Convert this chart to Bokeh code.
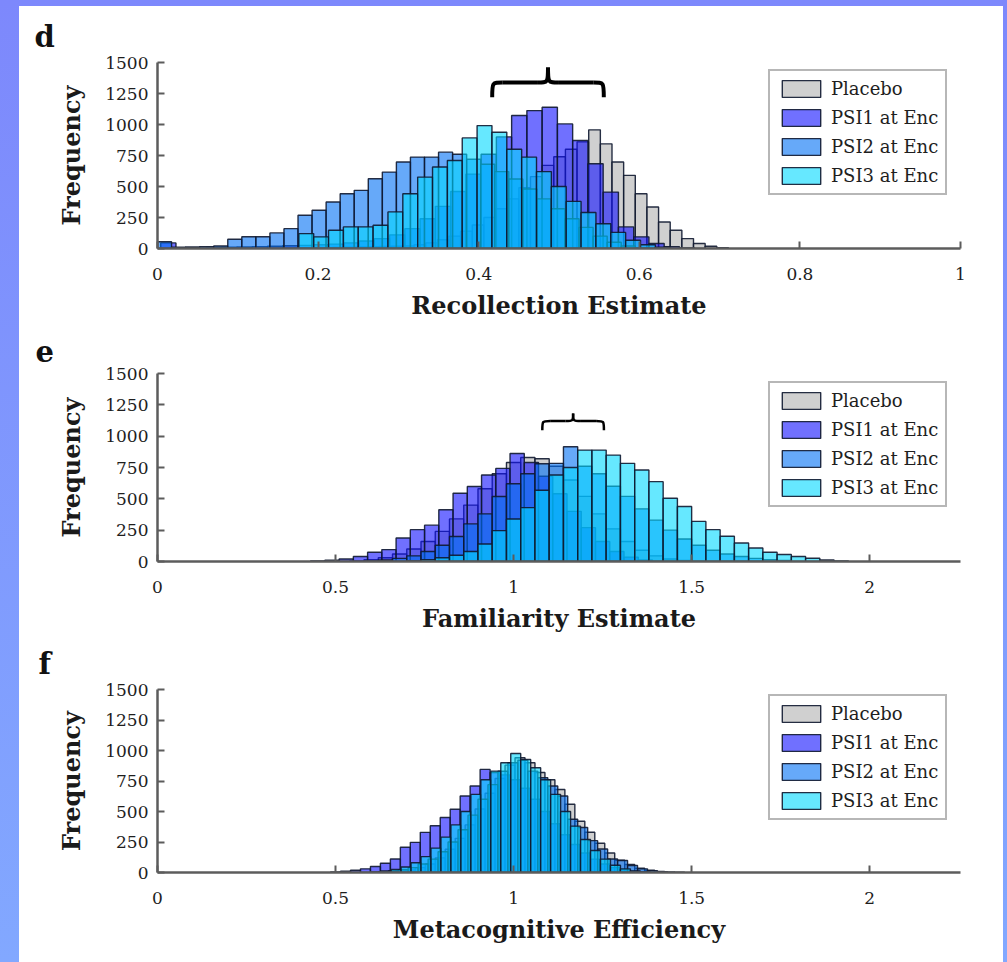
from bokeh.plotting import figure
from bokeh.layouts import column
from bokeh.models import Range1d, FixedTicker, Label, Legend, LegendItem, Title
from bokeh.embed import file_html
from bokeh.resources import INLINE

# ---------------- data ----------------
SERIES = ["Placebo", "PSI1 at Enc", "PSI2 at Enc", "PSI3 at Enc"]

Y_TICKS = [0, 250, 500, 750, 1000, 1250, 1500]
Y_TICK_LABELS = ["0", "250", "500", "750", "1000", "1250", "1500"]

# panel d : Recollection
REC_X_TICKS = [0, 0.2, 0.4, 0.6, 0.8, 1.0]
REC_X_TICK_LABELS = ["0", "0.2", "0.4", "0.6", "0.8", "1"]
REC_BIN_STARTS = [0.16, 0.004, 0.0, 0.176]
REC_BIN_WIDTHS = [0.0145, 0.019, 0.0175, 0.0185]
rec_placebo = [3, 4, 5, 6, 8, 10, 12, 14, 16, 18, 20, 30, 45, 70, 100, 140, 190, 250, 320,
               400, 490, 580, 670, 740, 800, 860, 957, 844, 697, 590, 442, 335, 214, 147, 80,
               40, 18, 6]
rec_psi1 = [45, 5, 5, 8, 10, 12, 15, 18, 22, 25, 30, 35, 45, 60, 80, 110, 160, 240, 340, 460,
            600, 760, 900, 1072, 1112, 1139, 1005, 871, 683, 455, 174, 94, 40, 15, 5]
rec_psi2 = [55, 10, 12, 15, 20, 75, 95, 95, 126, 160, 268, 308, 375, 442, 469, 563, 616, 697,
            737, 737, 777, 760, 720, 680, 620, 560, 480, 400, 320, 240, 170, 100, 50, 20, 5]
rec_psi3 = [120, 94, 147, 174, 174, 188, 295, 442, 576, 657, 710, 892, 991, 938, 800, 737, 620,
            500, 380, 290, 200, 130, 67, 30, 10]

# panel e : Familiarity
FAM_X_TICKS = [0, 0.5, 1.0, 1.5, 2.0]
FAM_X_TICK_LABELS = ["0", "0.5", "1", "1.5", "2"]
FAM_BIN_STARTS = [0.54, 0.43, 0.58, 0.70]
FAM_BIN_WIDTHS = [0.04, 0.04, 0.04, 0.04]
fam_placebo = [5, 15, 30, 60, 100, 160, 240, 340, 450, 580, 700, 790, 830, 820, 760, 650, 520,
               380, 260, 160, 90, 45, 20, 8]
fam_psi1 = [5, 10, 20, 40, 74, 95, 188, 254, 290, 413, 545, 598, 690, 743, 862, 790, 680, 540,
            400, 270, 160, 80, 35, 12]
fam_psi2 = [5, 12, 25, 45, 80, 130, 200, 300, 380, 519, 620, 700, 780, 783, 915, 760, 700, 600,
            520, 420, 330, 250, 180, 130, 90, 60, 40, 25, 15, 8]
fam_psi3 = [5, 15, 30, 50, 80, 140, 246, 339, 430, 568, 690, 750, 889, 889, 849, 783, 730, 637,
            505, 439, 320, 254, 201, 148, 108, 74, 56, 40, 26, 12, 5]

# panel f : Metamemory
META_X_TICKS = [0, 0.5, 1.0, 1.5, 2.0]
META_X_TICK_LABELS = ["0", "0.5", "1", "1.5", "2"]
META_BIN_STARTS = [0.64, 0.486, 0.62, 0.60]
META_BIN_WIDTHS = [0.028, 0.028, 0.028, 0.028]
meta_placebo = [5, 10, 20, 40, 70, 120, 190, 280, 390, 520, 650, 770, 880, 940, 900, 820, 760,
                680, 560, 420, 330, 240, 160, 100, 65, 35, 18, 8, 4, 2]
meta_psi1 = [5, 10, 18, 30, 49, 76, 111, 207, 247, 329, 383, 451, 519, 627, 709, 845, 820, 800,
             760, 690, 600, 500, 400, 310, 230, 160, 110, 70, 40, 22, 10, 4]
meta_psi2 = [5, 12, 22, 40, 70, 110, 170, 250, 350, 470, 600, 720, 830, 900, 920, 831, 777, 709,
             627, 437, 369, 261, 193, 111, 98, 57, 30, 15, 6]
meta_psi3 = [5, 12, 25, 45, 80, 130, 200, 290, 390, 500, 640, 760, 831, 899, 975, 926, 858, 760,
             640, 500, 380, 270, 180, 110, 60, 30, 12, 5]

# ---------------- style ----------------
FONT = "DejaVu Serif"
COLORS = ["#b0b0b0", "#1010ff", "#0070f5", "#00d8ff"]
FILL_ALPHA = 0.6
AXIS_COLOR = "#5c5c5c"


def add_brace(p, xa, xb, y_end, y_bar, y_tip, r, lw):
    xm = (xa + xb) / 2.0
    p.bezier(x0=[xa, xm - r, xm, xb - r], y0=[y_end, y_bar, y_tip, y_bar],
             x1=[xa + r, xm, xm + r, xb], y1=[y_bar, y_tip, y_bar, y_end],
             cx0=[xa, xm, xm, xb], cy0=[y_bar, y_bar, y_bar, y_bar],
             cx1=[xa, xm, xm, xb], cy1=[y_bar, y_bar, y_bar, y_bar],
             line_color="black", line_width=lw)
    p.segment(x0=[xa + r, xm + r], y0=[y_bar, y_bar], x1=[xm - r, xb - r], y1=[y_bar, y_bar],
              line_color="black", line_width=lw)


def make_panel(letter, title, xlabel, xmax, xticks, xtick_labels, counts_list, starts, widths,
               height, top, bottom, legend_y, letter_pos, brace=None):
    frame_h = height - top - bottom
    p = figure(width=984, height=height, x_range=Range1d(0, xmax), y_range=Range1d(0, 1500),
               output_backend="svg", toolbar_location=None,
               min_border_left=138, min_border_right=43, min_border_top=top,
               min_border_bottom=bottom)
    p.outline_line_color = None
    p.xgrid.visible = False
    p.ygrid.visible = False
    p.background_fill_color = "white"
    p.border_fill_color = "white"

    renderers = []
    for counts, start, w, color in zip(counts_list, starts, widths, COLORS):
        left = [start + i * w for i in range(len(counts))]
        right = [v + w for v in left]
        r = p.quad(left=left, right=right, bottom=0, top=counts, fill_color=color,
                   fill_alpha=FILL_ALPHA, line_color="#101830", line_alpha=0.9,
                   line_width=1.4)
        renderers.append(r)

    for ax in (p.xaxis[0], p.yaxis[0]):
        ax.axis_line_color = AXIS_COLOR
        ax.axis_line_width = 2.5
        ax.major_tick_line_color = AXIS_COLOR
        ax.major_tick_line_width = 2
        ax.major_tick_in = 7
        ax.major_tick_out = 0
        ax.minor_tick_line_color = None
        ax.major_label_text_font = FONT
        ax.major_label_text_font_size = "17px"
        ax.major_label_text_color = "#1e1e1e"
        ax.axis_label_text_font = FONT
        ax.axis_label_text_font_style = "bold"
        ax.axis_label_text_font_size = "24px"
        ax.axis_label_text_color = "#1a1a1a"
    xa = p.xaxis[0]
    xa.ticker = FixedTicker(ticks=xticks)
    xa.major_label_overrides = dict(zip(xticks, xtick_labels))
    xa.axis_label = xlabel
    xa.major_label_standoff = 19
    xa.axis_label_standoff = 8
    ya = p.yaxis[0]
    ya.ticker = FixedTicker(ticks=Y_TICKS)
    ya.major_label_overrides = dict(zip(Y_TICKS, Y_TICK_LABELS))
    ya.axis_label = "Frequency"
    ya.major_label_standoff = 9
    ya.axis_label_standoff = 16

    legend = Legend(items=[LegendItem(label=n, renderers=[r]) for n, r in zip(SERIES, renderers)],
                    location=(611, legend_y), margin=0, padding=7, spacing=8,
                    glyph_width=48, glyph_height=21, label_height=21, label_standoff=6,
                    label_text_font=FONT, label_text_font_size="18px",
                    label_text_color="#1e1e1e",
                    border_line_color="#707070", border_line_width=2,
                    background_fill_color="white", background_fill_alpha=1.0)
    p.add_layout(legend)

    y_above = 1500 + 24 * 1500.0 / frame_h
    p.add_layout(Label(x=xmax / 2.0, y=y_above, text=title, text_align="center",
                       text_baseline="middle", text_font=FONT, text_font_style="bold",
                       text_font_size="29px", text_color="#111111"))
    p.add_layout(Title(text=letter, align="left", offset=letter_pos[0],
                       standoff=letter_pos[1], text_font=FONT,
                       text_font_style="bold", text_font_size="29px",
                       text_color="#111111"), "above")
    if brace is not None:
        add_brace(p, *brace)
    return p


p_d = make_panel("d", "Recollection", "Recollection Estimate", 1.0, REC_X_TICKS,
                 REC_X_TICK_LABELS, [rec_placebo, rec_psi1, rec_psi2, rec_psi3],
                 REC_BIN_STARTS, REC_BIN_WIDTHS, 318, 56, 76, 53, (-123, 18),
                 brace=(0.4168, 0.5558, 1220, 1339, 1460, 0.0125, 4))
p_e = make_panel("e", "Familiarity", "Familiarity Estimate", 2.255, FAM_X_TICKS,
                 FAM_X_TICK_LABELS, [fam_placebo, fam_psi1, fam_psi2, fam_psi3],
                 FAM_BIN_STARTS, FAM_BIN_WIDTHS, 311, 49, 73, 54, (-122, 23),
                 brace=(1.0806, 1.2537, 1048, 1121, 1180, 0.022, 2.5))
p_f = make_panel("f", "Metamemory", "Metacognitive Efficiency", 2.255, META_X_TICKS,
                 META_X_TICK_LABELS, [meta_placebo, meta_psi1, meta_psi2, meta_psi3],
                 META_BIN_STARTS, META_BIN_WIDTHS, 327, 53, 90, 52, (-119, 18))

inner = column(p_d, p_e, p_f, spacing=0, styles={"background-color": "white"})
layout = column(inner, spacing=0,
                styles={"background": "linear-gradient(to bottom, #7d88fc, #82a8ff)",
                        "padding": "6px 4px 0px 19px"})

open("out.html", "w").write(file_html(layout, INLINE))
